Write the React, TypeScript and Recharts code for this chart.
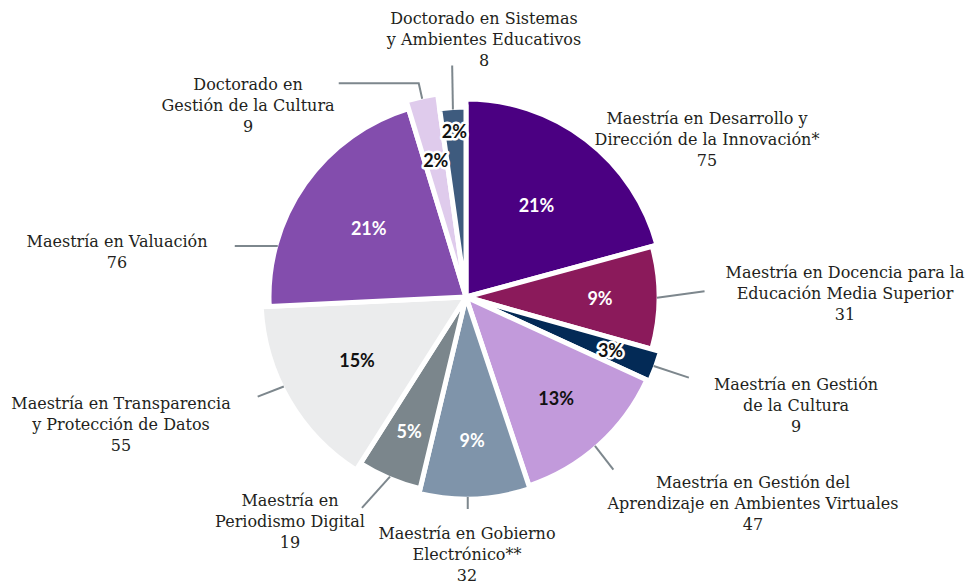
import { PieChart, Pie, Cell } from 'recharts';

// matrícula por programa de posgrado
const programs: string[][] = [
  ['Maestría en Desarrollo y', 'Dirección de la Innovación*'],
  ['Maestría en Docencia para la', 'Educación Media Superior'],
  ['Maestría en Gestión', 'de la Cultura'],
  ['Maestría en Gestión del', 'Aprendizaje en Ambientes Virtuales'],
  ['Maestría en Gobierno', 'Electrónico**'],
  ['Maestría en', 'Periodismo Digital'],
  ['Maestría en Transparencia', 'y Protección de Datos'],
  ['Maestría en Valuación'],
  ['Doctorado en', 'Gestión de la Cultura'],
  ['Doctorado en Sistemas', 'y Ambientes Educativos'],
];
const students = [75, 31, 9, 47, 32, 19, 55, 76, 9, 8];
const shareLabels = ['21%', '9%', '3%', '13%', '9%', '5%', '15%', '21%', '2%', '2%'];

const sliceColors = [
  '#4b0082', '#8b1a5b', '#032a56', '#c29adb', '#7f94aa',
  '#7b868c', '#ebeced', '#834dad', '#dfcbec', '#3e5b7e',
];
const pctDark = [false, false, true, true, false, false, true, false, true, true];
const pctHalo = [false, false, true, false, false, false, false, false, true, true];

// layout (px)
const CX = 466;
const CY = 297;
const radii = [198, 193, 202, 199, 202, 197, 205, 197, 205, 190];
const pctDist = [116, 134, 154, 135, 143, 146, 126, 119, 140, 166];
// text block centre x / first line y, relative to pie centre
const labelPos = [
  [241, -179], [379, -25], [330, 87], [287, 185], [1, 236],
  [-176, 203], [-345, 106], [-349, -56], [-218, -213], [18, -279],
];
// [start angle shift, direction shift, length, horizontal tail] in clockwise degrees
const leaders: (number[] | null)[] = [
  null, [0, -8, 48, 0], [0, -2, 37, 0], [1, 4, 30, 0], [2, 2.4, 12, 0],
  [0, 19, 42, 0], [4, 9, 28, 0], [-20, -35, 43, 0], [0, 0, 16, -80], [0, 3, 44, 0],
];

const rows = students.map((v, i) => ({ name: programs[i].join(' '), value: v }));

const RAD = Math.PI / 180;
function polar(cx: number, cy: number, r: number, angle: number) {
  return { x: cx + r * Math.cos(angle * RAD), y: cy - r * Math.sin(angle * RAD) };
}

function SliceLabel(props: any) {
  const { cx, cy, midAngle, index } = props;
  const i = index as number;
  const pct = polar(cx, cy, pctDist[i], midAngle);
  const lines = [...programs[i], String(students[i])];
  const [lx, ly] = labelPos[i];
  const ld = leaders[i];
  let path = '';
  if (ld) {
    const a0 = midAngle - ld[0];
    const s = polar(cx, cy, radii[i] - 2, a0);
    const e = polar(s.x, s.y, ld[2], midAngle - ld[1]);
    path = `M${s.x},${s.y}L${e.x},${e.y}`;
    if (ld[3]) path += `L${e.x + ld[3]},${e.y}`;
  }
  return (
    <g>
      {path && <path d={path} stroke="#7d878d" strokeWidth={2} fill="none" />}
      <text
        x={cx + lx}
        y={cy + ly}
        textAnchor="middle"
        dominantBaseline="central"
        fontFamily="'DejaVu Serif', serif"
        fontSize={16}
        fill="#231f20"
      >
        {lines.map((t, k) => (
          <tspan key={k} x={cx + lx} y={cy + ly + k * 21}>
            {t}
          </tspan>
        ))}
      </text>
      <text
        x={pct.x}
        y={pct.y}
        textAnchor="middle"
        dominantBaseline="central"
        fontFamily="Lato, sans-serif"
        fontWeight={700}
        fontSize={18}
        fill={pctDark[i] ? '#111' : '#fff'}
        stroke={pctHalo[i] ? '#fff' : 'none'}
        strokeWidth={pctHalo[i] ? 5 : 0}
        strokeLinejoin="round"
        paintOrder="stroke"
      >
        {shareLabels[i]}
      </text>
    </g>
  );
}

export default function App() {
  return (
    <div style={{ position: 'absolute', left: 0, top: 0 }}>
      <PieChart width={968} height={585} margin={{ top: 0, right: 0, bottom: 0, left: 0 }}>
        {rows.map((_, i) => (
          <Pie
            key={`slice-${i}`}
            data={rows}
            dataKey="value"
            nameKey="name"
            cx={CX}
            cy={CY}
            outerRadius={radii[i]}
            startAngle={90}
            endAngle={-270}
            label={false}
            labelLine={false}
            isAnimationActive={false}
          >
            {rows.map((__, j) => (
              <Cell
                key={j}
                fill={j === i ? sliceColors[j] : 'none'}
                stroke={j === i ? '#fff' : 'none'}
                strokeWidth={j === i ? 5 : 0}
              />
            ))}
          </Pie>
        ))}
        <Pie
          key="labels"
          data={rows}
          dataKey="value"
          nameKey="name"
          cx={CX}
          cy={CY}
          outerRadius={200}
          startAngle={90}
          endAngle={-270}
          label={SliceLabel}
          labelLine={false}
          isAnimationActive={false}
        >
          {rows.map((_, j) => (
            <Cell key={j} fill="none" stroke="none" />
          ))}
        </Pie>
      </PieChart>
    </div>
  );
}
